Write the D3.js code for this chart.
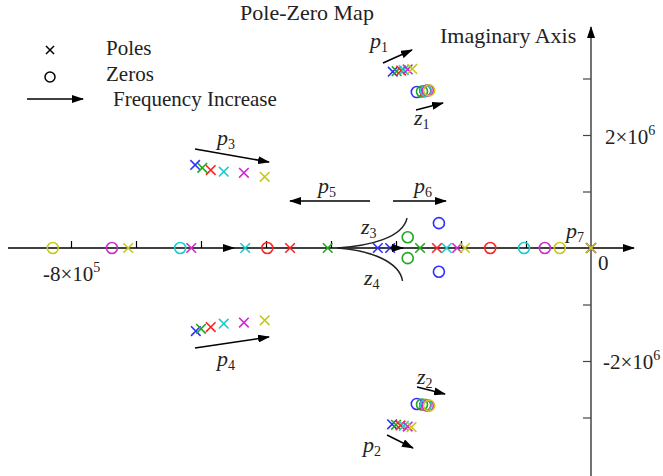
<!DOCTYPE html>
<html>
<head>
<meta charset="utf-8">
<script src="https://cdn.jsdelivr.net/npm/d3@7"></script>
<style>
  body { margin: 0; background: #fff; }
  text { font-family: 'Liberation Serif', 'Times New Roman', 'DejaVu Serif', serif; }
</style>
</head>
<body>
<svg id="chart" width="663" height="476"></svg>
<script>
// six operating cases, frequency increasing from blue to yellow
const series = ['blue', 'green', 'red', 'cyan', 'magenta', 'yellow'];
const seriesColor = ['#2f2fff', '#1fa81f', '#ff2222', '#1ccccc', '#cc2ccc', '#c8c81c'];

// poles (real part, imaginary part), one value per case
const p1Re = [-3.05e5, -2.99e5, -2.92e5, -2.88e5, -2.82e5, -2.75e5];
const p1Im = [3.12e6, 3.13e6, 3.14e6, 3.15e6, 3.16e6, 3.17e6];
const p2Re = [-3.06e5, -3.0e5, -2.93e5, -2.88e5, -2.82e5, -2.76e5];
const p2Im = [-3.12e6, -3.13e6, -3.14e6, -3.15e6, -3.16e6, -3.17e6];
const p3Re = [-6.09e5, -5.98e5, -5.85e5, -5.65e5, -5.34e5, -5.02e5];
const p3Im = [1.47e6, 1.42e6, 1.38e6, 1.35e6, 1.33e6, 1.26e6];
const p4Re = [-6.08e5, -6.0e5, -5.85e5, -5.65e5, -5.34e5, -5.02e5];
const p4Im = [-1.47e6, -1.43e6, -1.40e6, -1.34e6, -1.32e6, -1.28e6];
const p5Re = [-3.28e5, -4.05e5, -4.63e5, -5.32e5, -6.15e5, -7.12e5];
const p6Re = [-3.09e5, -2.63e5, -2.37e5, -2.22e5, -2.06e5, -1.94e5];
const p7Re = [0, 0, 0, 0, 0, 0];

// zeros
const z1Re = [-2.68e5, -2.6e5, -2.55e5, -2.54e5, -2.51e5, -2.49e5];
const z1Im = [2.76e6, 2.77e6, 2.78e6, 2.78e6, 2.79e6, 2.79e6];
const z2Re = [-2.68e5, -2.6e5, -2.55e5, -2.54e5, -2.51e5, -2.49e5];
const z2Im = [-2.76e6, -2.77e6, -2.78e6, -2.78e6, -2.79e6, -2.79e6];
const z3Re = [-2.34e5, -2.82e5, -4.98e5, -6.32e5, -7.37e5, -8.28e5];
const z3Im = [0.44e6, 0.19e6, 0, 0, 0, 0];
const z4Re = [-2.34e5, -2.82e5, -1.55e5, -1.03e5, -0.71e5, -0.48e5];
const z4Im = [-0.42e6, -0.18e6, 0, 0, 0, 0];

const xTicks = [-8e5, -7e5, -6e5, -5e5, -4e5, -3e5, -2e5, -1e5];
const yTicks = [-3e6, -2e6, -1e6, 1e6, 2e6, 3e6];

const FONT = "'Liberation Serif', 'Times New Roman', 'DejaVu Serif', serif";
const svg = d3.select('#chart').attr('font-family', FONT);
const x = d3.scaleLinear().domain([-8e5, 0]).range([71, 591]);
const y = d3.scaleLinear().domain([-3e6, 3e6]).range([417.5, 78.5]);
const x0 = x(0), y0 = y(0);

// arrowhead
const defs = svg.append('defs');
defs.append('marker')
  .attr('id', 'head')
  .attr('viewBox', '0 0 12 8')
  .attr('refX', 11).attr('refY', 4)
  .attr('markerWidth', 12).attr('markerHeight', 8)
  .attr('markerUnits', 'userSpaceOnUse')
  .attr('orient', 'auto')
  .append('path').attr('d', 'M0,0 L12,4 L0,8 Z').attr('fill', '#000');

// axes
svg.append('line')
  .attr('x1', 8).attr('x2', 634).attr('y1', y0).attr('y2', y0)
  .attr('stroke', '#000').attr('stroke-width', 1.5)
  .attr('marker-end', 'url(#head)');
svg.append('line')
  .attr('x1', x0).attr('x2', x0).attr('y1', 476).attr('y2', 27)
  .attr('stroke', '#444').attr('stroke-width', 1.5)
  .attr('marker-end', 'url(#head)');

const xAxis = svg.append('g')
  .attr('transform', `translate(0,${y0})`)
  .call(d3.axisTop(x).tickValues(xTicks).tickFormat('').tickSize(7).tickSizeOuter(0));
xAxis.select('.domain').remove();
xAxis.selectAll('line').attr('stroke', '#000').attr('stroke-width', 1.2);

const yAxis = svg.append('g')
  .attr('transform', `translate(${x0},0)`)
  .call(d3.axisLeft(y).tickValues(yTicks).tickFormat('').tickSize(8).tickSizeOuter(0));
yAxis.select('.domain').remove();
yAxis.selectAll('line').attr('stroke', '#444').attr('stroke-width', 1.2);

function txt(tx, ty, size) {
  return svg.append('text').attr('x', tx).attr('y', ty)
    .attr('font-family', FONT).attr('font-size', size).attr('fill', '#222');
}

// tick labels with superscript exponent
function sciLabel(tx, ty, mant, exp) {
  const t = txt(tx, ty, 21);
  t.append('tspan').text(mant + '\u00d710');
  t.append('tspan').attr('dy', -9).attr('font-size', 14).text(exp);
}
sciLabel(605, 144, '2', '6');
sciLabel(603, 369, '-2', '6');
sciLabel(x(-8e5) - 28, 281, '-8', '5');
txt(598, 270, 21).text('0');

// titles
txt(307, 20, 22).attr('text-anchor', 'middle').text('Pole-Zero Map');
txt(440, 43, 22).text('Imaginary Axis');

// legend
function crossPath(cx, cy, s) {
  return `M${cx - s},${cy - s}L${cx + s},${cy + s}M${cx - s},${cy + s}L${cx + s},${cy - s}`;
}
svg.append('path').attr('d', crossPath(50, 50, 4)).attr('stroke', '#000').attr('stroke-width', 1.5);
svg.append('circle').attr('cx', 50).attr('cy', 77).attr('r', 5).attr('fill', 'none')
  .attr('stroke', '#000').attr('stroke-width', 1.5);
svg.append('line').attr('x1', 27).attr('x2', 83).attr('y1', 99).attr('y2', 99)
  .attr('stroke', '#000').attr('stroke-width', 1.5).attr('marker-end', 'url(#head)');
txt(106, 55, 21).text('Poles');
txt(106, 81, 21).text('Zeros');
txt(113, 106, 21).text('Frequency Increase');

// build point lists
const poleGroups = [[p1Re, p1Im], [p2Re, p2Im], [p3Re, p3Im], [p4Re, p4Im],
  [p5Re, null], [p6Re, null], [p7Re, null]];
const zeroGroups = [[z1Re, z1Im], [z2Re, z2Im], [z3Re, z3Im], [z4Re, z4Im]];

const poles = [], zeros = [];
series.forEach((s, i) => {
  zeroGroups.forEach(([re, im]) => zeros.push({ s: i, re: re[i], im: im ? im[i] : 0 }));
  poleGroups.forEach(([re, im]) => poles.push({ s: i, re: re[i], im: im ? im[i] : 0 }));
});

// branch curves z3/z4 (drawn before markers)
const curves = [
  [[-3.9e5, 0], [-3.4e5, 0.04e6], [-2.9e5, 0.18e6], [-2.83e5, 0.53e6]],
  [[-3.9e5, 0], [-3.4e5, -0.04e6], [-2.95e5, -0.24e6], [-2.9e5, -0.58e6]]
];
curves.forEach(c => {
  const p = d3.path();
  p.moveTo(x(c[0][0]), y(c[0][1]));
  p.bezierCurveTo(x(c[1][0]), y(c[1][1]), x(c[2][0]), y(c[2][1]), x(c[3][0]), y(c[3][1]));
  svg.append('path').attr('d', p.toString()).attr('fill', 'none')
    .attr('stroke', '#222').attr('stroke-width', 1.5);
});

// markers
svg.append('g').selectAll('circle').data(zeros).join('circle')
  .attr('cx', d => x(d.re)).attr('cy', d => y(d.im)).attr('r', 5.5)
  .attr('fill', 'none').attr('stroke', d => seriesColor[d.s]).attr('stroke-width', 1.6);
svg.append('g').selectAll('path').data(poles).join('path')
  .attr('d', d => crossPath(x(d.re), y(d.im), 4.8))
  .attr('stroke', d => seriesColor[d.s]).attr('stroke-width', 1.6);

// direction arrows on real axis
svg.append('line').attr('x1', x(-5.5e5)).attr('x2', 234).attr('y1', y0).attr('y2', y0)
  .attr('stroke', '#000').attr('stroke-width', 1.5).attr('marker-end', 'url(#head)');
svg.append('line').attr('x1', 390).attr('x2', 403).attr('y1', y0).attr('y2', y0)
  .attr('stroke', '#000').attr('stroke-width', 1.5).attr('marker-end', 'url(#head)');

// annotation arrows (pixel layout)
const arrows = [
  [383, 63, 412, 50], [416, 110, 443, 103], [387, 435, 413, 448], [417, 387, 445, 394],
  [195, 149, 269, 162], [195, 348, 269, 337], [370, 201, 290, 201], [393, 201, 446, 201]
];
arrows.forEach(a => svg.append('line')
  .attr('x1', a[0]).attr('y1', a[1]).attr('x2', a[2]).attr('y2', a[3])
  .attr('stroke', '#000').attr('stroke-width', 1.5).attr('marker-end', 'url(#head)'));

const labels = [
  ['p', '1', 370, 48], ['z', '1', 414, 125], ['p', '2', 363, 452], ['z', '2', 417, 384],
  ['p', '3', 217, 145], ['p', '4', 217, 366], ['p', '5', 318, 193], ['p', '6', 414, 193],
  ['p', '7', 566, 238], ['z', '3', 361, 234], ['z', '4', 364, 285]
];
labels.forEach(([v, n, lx, ly]) => {
  const t = txt(lx, ly, 22);
  t.append('tspan').attr('font-style', 'italic').text(v);
  t.append('tspan').attr('font-size', 14).attr('dy', 4).text(n);
});
</script>
</body>
</html>
